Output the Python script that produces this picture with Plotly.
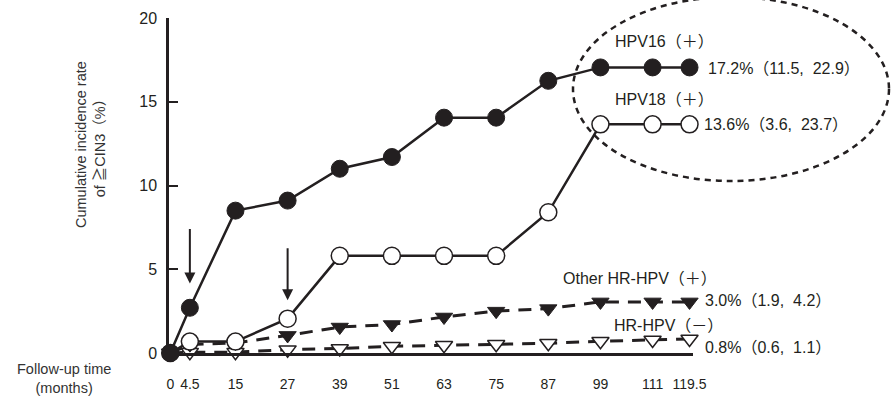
import plotly.graph_objects as go

# ---- data ----
months = [0, 4.5, 15, 27, 39, 51, 63, 75, 87, 99, 111, 119.5]
month_labels = ["0", "4.5", "15", "27", "39", "51", "63", "75", "87", "99", "111", "119.5"]
hpv16 = [0, 2.7, 8.5, 9.1, 11.0, 11.7, 14.05, 14.05, 16.25, 17.05, 17.05, 17.05]
hpv18 = [0, 0.68, 0.68, 2.05, 5.8, 5.8, 5.8, 5.8, 8.4, 13.65, 13.65, 13.65]
other_hr = [0, 0.5, 0.6, 1.05, 1.55, 1.7, 2.15, 2.5, 2.65, 3.05, 3.05, 3.05]
hr_neg = [0, 0.05, 0.05, 0.2, 0.27, 0.4, 0.46, 0.52, 0.58, 0.7, 0.78, 0.84]
y_ticks = [0, 5, 10, 15, 20]

series_names = ["HPV16（＋）", "HPV18（＋）", "Other HR-HPV（＋）", "HR-HPV（－）"]
series_stats = ["17.2%（11.5,  22.9）", "13.6%（3.6,  23.7）", "3.0%（1.9,  4.2）", "0.8%（0.6,  1.1）"]

INK = "#231f20"
FONT = "Arial, 'Liberation Sans', 'Noto Sans CJK JP', sans-serif"

# plot area in pixels
L, R, T, B = 169, 693, 18, 353
W, H = 893, 396


def px(x):
    return (x - L) / (R - L)


def py(y):
    return (B - y) / (B - T)


fig = go.Figure()

fig.add_trace(go.Scatter(
    x=months, y=hr_neg, mode="lines+markers", name=series_names[3],
    line=dict(color=INK, width=3, dash="13px,9px"),
    marker=dict(symbol="triangle-down", size=15, color="white",
                line=dict(color=INK, width=1.5)),
    cliponaxis=False))
fig.add_trace(go.Scatter(
    x=months, y=other_hr, mode="lines+markers", name=series_names[2],
    line=dict(color=INK, width=3, dash="13px,9px"),
    marker=dict(symbol="triangle-down", size=15, color=INK,
                line=dict(color=INK, width=1)),
    cliponaxis=False))
fig.add_trace(go.Scatter(
    x=months, y=hpv18, mode="lines+markers", name=series_names[1],
    line=dict(color=INK, width=2.5),
    marker=dict(symbol="circle", size=17, color="white",
                line=dict(color=INK, width=1.5)),
    cliponaxis=False))
fig.add_trace(go.Scatter(
    x=months, y=hpv16, mode="lines+markers", name=series_names[0],
    line=dict(color=INK, width=2.5),
    marker=dict(symbol="circle", size=17, color=INK,
                line=dict(color=INK, width=1)),
    cliponaxis=False))

annotations = []
# series labels
label_pos = [
    (613, 41, 706, 68),
    (613, 100, 702, 125),
    (561, 278, 703, 300),
    (612, 325, 703, 347),
]
for (nx, ny, sx, sy), name, stat in zip(label_pos, series_names, series_stats):
    annotations.append(dict(x=px(nx), y=py(ny), xref="paper", yref="paper",
                            text=name, showarrow=False, xanchor="left", yanchor="middle",
                            font=dict(size=16, color=INK, family=FONT)))
    annotations.append(dict(x=px(sx), y=py(sy), xref="paper", yref="paper",
                            text=stat, showarrow=False, xanchor="left", yanchor="middle",
                            font=dict(size=16, color=INK, family=FONT)))

# arrows
for ax_, tip, tail in [(4.5, 4.15, 7.5), (27, 3.15, 6.35)]:
    annotations.append(dict(x=ax_, y=tip, ax=ax_, ay=tail, xref="x", yref="y",
                            axref="x", ayref="y", text="", showarrow=True,
                            arrowhead=2, arrowsize=1.1, arrowwidth=2, arrowcolor=INK))

# y title
annotations.append(dict(x=px(90), y=py(145), xref="paper", yref="paper",
                        text="Cumulative incidence rate<br>of ≧CIN3（%）",
                        showarrow=False, textangle=-90, xanchor="center", yanchor="middle",
                        font=dict(size=14.5, color="#333", family=FONT)))
# x title
annotations.append(dict(x=px(64), y=py(378), xref="paper", yref="paper",
                        text="Follow-up time<br>(months)",
                        showarrow=False, xanchor="center", yanchor="middle",
                        font=dict(size=14.5, color="#333", family=FONT)))

shapes = [dict(type="circle", xref="paper", yref="paper",
               x0=px(573), x1=px(889), y0=py(181), y1=py(-3),
               line=dict(color=INK, width=2.5, dash="6px,5px"))]

fig.update_layout(
    width=W, height=H,
    margin=dict(l=L, r=W - R, t=T, b=H - B, pad=0, autoexpand=False),
    paper_bgcolor="white", plot_bgcolor="white",
    showlegend=False,
    font=dict(family=FONT, color=INK),
    xaxis=dict(range=[-0.3, 120.3], tickvals=months, ticktext=month_labels,
               showgrid=False, zeroline=False, showline=True, linewidth=2.5,
               linecolor=INK, ticks="", ticklabelstandoff=16, automargin=False,
               tickfont=dict(size=14, color=INK, family=FONT)),
    yaxis=dict(range=[0, 20], tickvals=y_ticks, showgrid=False, zeroline=False,
               showline=True, linewidth=2.5, linecolor=INK, ticks="inside",
               ticklen=9, tickwidth=2, tickcolor=INK, ticklabelstandoff=6,
               automargin=False,
               tickfont=dict(size=16, color=INK, family=FONT)),
    annotations=annotations,
    shapes=shapes,
)

fig.write_html("out.html")
